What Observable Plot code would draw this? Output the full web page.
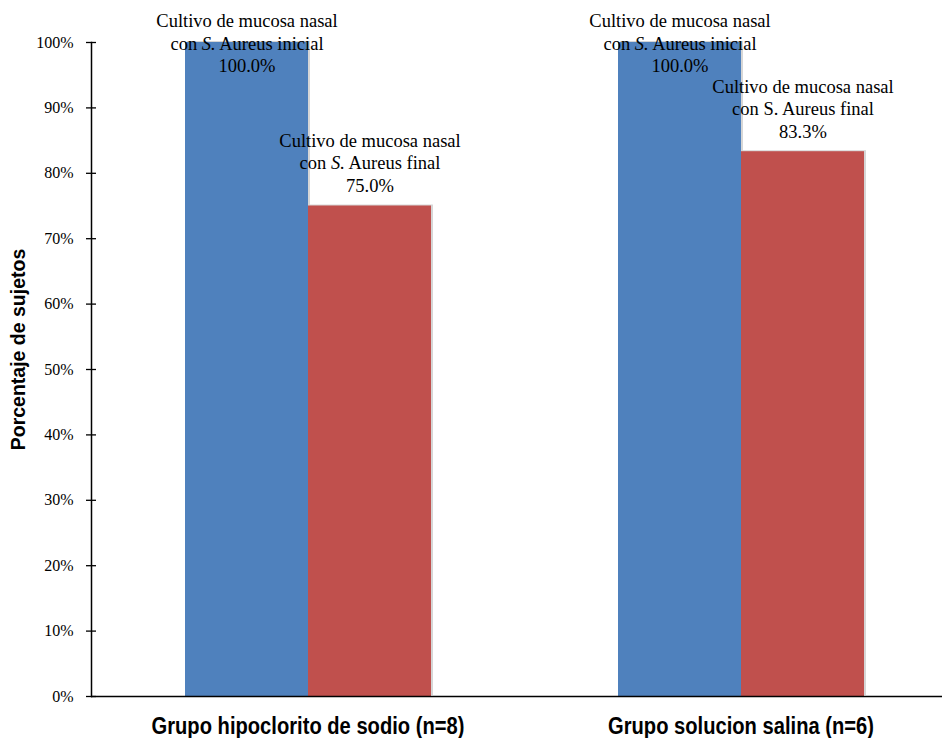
<!DOCTYPE html>
<html>
<head>
<meta charset="utf-8">
<script src="https://cdn.jsdelivr.net/npm/d3@7"></script>
<script src="https://cdn.jsdelivr.net/npm/@observablehq/plot@0.6"></script>
<style>
  body { margin: 0; background: #fff; overflow: hidden; }
</style>
</head>
<body>
<div id="chart"></div>
<script>
// Study groups (one cluster of bars each)
const groups = ["Grupo hipoclorito de sodio (n=8)", "Grupo solucion salina (n=6)"];
// Series: nasal culture positive for S. aureus at start and end
const series = ["inicial", "final"];
const seriesLines = [
  ["Cultivo de mucosa nasal", "con S. Aureus inicial"],
  ["Cultivo de mucosa nasal", "con S. Aureus final"]
];
// Percentage of subjects per group
const inicial = [100.0, 100.0];
const final = [75.0, 83.3];
// Whether the species abbreviation is set in italics, per group
const italicInicial = [true, true];
const italicFinal = [true, false];
// Y axis ticks (percent)
const yTicks = [0, 10, 20, 30, 40, 50, 60, 70, 80, 90, 100];
const colors = ["#4F81BD", "#C0504D"];

const rows = groups.flatMap((g, i) => [
  {group: g, serie: series[0], value: inicial[i], lines: seriesLines[0], italic: italicInicial[i]},
  {group: g, serie: series[1], value: final[i], lines: seriesLines[1], italic: italicFinal[i]}
]);
const inicialRows = rows.filter(d => d.serie === "inicial");
const finalRows = rows.filter(d => d.serie === "final");
const labelText = d => [...d.lines, d.value.toFixed(1) + "%"].join("\n");

const serif = "'Liberation Serif', 'Times New Roman', serif";
const sans = "'Liberation Sans', Arial, sans-serif";

const chart = Plot.plot({
  width: 942,
  height: 738,
  marginLeft: 91,
  marginRight: -15,
  marginTop: 42,
  marginBottom: 42,
  style: {fontFamily: serif, fontSize: "16px", color: "#000", background: "#fff", overflow: "visible"},
  fx: {domain: groups, padding: 0, label: null},
  x: {domain: series, paddingInner: 0, paddingOuter: 0.746, axis: null},
  y: {domain: [0, 100], label: null},
  color: {domain: series, range: colors},
  marks: [
    // soft shadow behind bars
    Plot.barY(rows, {fx: "group", x: "serie", y: "value", fill: "#000", fillOpacity: 0.16, dx: 2, dy: -1}),
    Plot.barY(rows, {fx: "group", x: "serie", y: "value", fill: "serie"}),
    // baseline
    Plot.ruleY([0], {stroke: "#000", strokeWidth: 1.5}),
    // vertical axis line on the first panel only
    Plot.frame({anchor: "left", facetAnchor: "left", stroke: "#000", strokeWidth: 1.5}),
    Plot.axisY(yTicks, {
      tickSize: 10, dx: 5, tickPadding: 13, strokeWidth: 1.3,
      tickFormat: d => d + "%", fontSize: 16, fontFamily: serif, label: null
    }),
    Plot.text([{g: groups[0]}], {
      fx: "g", text: () => "Porcentaje de sujetos", frameAnchor: "left", textAnchor: "middle",
      rotate: -90, dx: -73, dy: -20, fontWeight: "bold", fontSize: 19.5, fontFamily: sans
    }),
    Plot.axisFx({
      anchor: "bottom", tickSize: 0, tickPadding: 20, fontSize: 24, fontWeight: "bold",
      fontFamily: sans, label: null, className: "grp-label"
    }),
    // value labels: initial bars reach the top, so their label sits centred on the top edge
    Plot.text(inicialRows, {
      fx: "group", x: "serie", y: "value", text: labelText,
      lineAnchor: "middle", lineHeight: 1.22, fontSize: 18.5, fontFamily: serif, fill: "#000",
      className: "val-inicial"
    }),
    Plot.text(finalRows, {
      fx: "group", x: "serie", y: "value", text: labelText,
      lineAnchor: "bottom", dy: -14, lineHeight: 1.22, fontSize: 18.5, fontFamily: serif, fill: "#000",
      className: "val-final"
    })
  ]
});

// italicise the "S." of the species name where the label calls for it
function italicise(selector, data) {
  chart.querySelectorAll(selector + " text").forEach(txt => {
    const row = data[txt.__data__];
    if (!row || !row.italic) return;
    txt.querySelectorAll("tspan").forEach(t => {
      const s = t.textContent;
      const k = s.indexOf("S. Aureus");
      if (k < 0) return;
      t.textContent = "";
      t.append(document.createTextNode(s.slice(0, k)));
      const it = document.createElementNS("http://www.w3.org/2000/svg", "tspan");
      it.setAttribute("font-style", "italic");
      it.textContent = "S.";
      t.append(it);
      t.append(document.createTextNode(s.slice(k + 2)));
    });
  });
}
italicise(".val-inicial", inicialRows);
italicise(".val-final", finalRows);

// the group names are set in a tall, narrow bold face
chart.querySelectorAll(".grp-label text").forEach(t => {
  const tr = t.getAttribute("transform");
  if (tr) {
    t.setAttribute("transform", tr + " scale(0.84,1)");
  } else {
    const x = +t.getAttribute("x") || 0;
    t.setAttribute("transform", `translate(${x},0) scale(0.84,1) translate(${-x},0)`);
  }
});

document.getElementById("chart").append(chart);
</script>
</body>
</html>
